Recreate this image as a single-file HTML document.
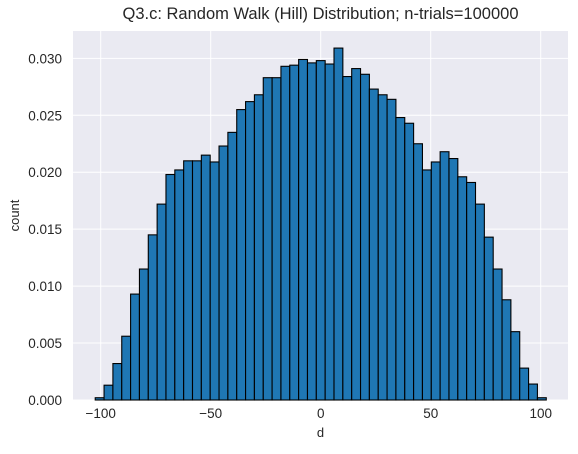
<!DOCTYPE html>
<html><head><meta charset="utf-8"><style>
body{margin:0;background:#fff;}
svg text{font-family:"Liberation Sans",Arial,sans-serif;fill:#262626;}
</style></head><body>
<svg id="chart" width="578" height="449" xmlns="http://www.w3.org/2000/svg">
<text x="320.5" y="19" font-size="16.5" text-anchor="middle">Q3.c: Random Walk (Hill) Distribution; n-trials=100000</text>
<rect x="73" y="31" width="495" height="369" fill="#eaeaf2"/>
<g id="grid"></g><g id="bars"></g><g id="ticks"></g>
<text x="320.5" y="437" font-size="13" text-anchor="middle">d</text>
<text x="19" y="215.5" font-size="13" text-anchor="middle" transform="rotate(-90 19 215.5)">count</text>
</svg>
<script>
const binStart = -102.5;
const binWidth = 4.02;
const counts = [0.0002,0.0013,0.0032,0.0056,0.0093,0.0115,0.0145,0.0172,0.0198,0.0202,0.0210,0.0210,0.0215,0.0209,0.0223,0.0235,0.0255,0.0262,0.0268,0.0283,0.0283,0.0293,0.0294,0.0299,0.0296,0.0298,0.0295,0.0309,0.0284,0.0291,0.0286,0.0273,0.0268,0.0264,0.0248,0.0243,0.0225,0.0202,0.0209,0.0218,0.0212,0.0196,0.0191,0.0172,0.0143,0.0115,0.0088,0.0060,0.0028,0.0014,0.0002];
const xTicks = [-100,-50,0,50,100];
const xTickLabels = ["\u2212100","\u221250","0","50","100"];
const yTicks = [0,0.005,0.010,0.015,0.020,0.025,0.030];
const yTickLabels = ["0.000","0.005","0.010","0.015","0.020","0.025","0.030"];
const X0=73,X1=568,Y0=400,Y1=31,xmin=-112.6,xmax=112.4,ymin=0,ymax=0.0324;
const sx=v=>X0+(v-xmin)/(xmax-xmin)*(X1-X0);
const sy=v=>Y0-(v-ymin)/(ymax-ymin)*(Y0-Y1);
const NS="http://www.w3.org/2000/svg";
function mk(tag,attrs,parent){const e=document.createElementNS(NS,tag);for(const k in attrs)e.setAttribute(k,attrs[k]);parent.appendChild(e);return e;}
const grid=document.getElementById('grid'),bars=document.getElementById('bars'),ticks=document.getElementById('ticks');
xTicks.forEach((t,i)=>{
  const l=mk('line',{x1:sx(t),x2:sx(t),y1:Y1,y2:Y0,stroke:'#fff','stroke-width':1},grid);
  
  
  const tx=mk('text',{x:sx(t),y:418,'font-size':13.5,'text-anchor':'middle'},ticks);
  tx.textContent=xTickLabels[i];
  
  
});
yTicks.forEach((t,i)=>{
  const l=mk('line',{x1:X0,x2:X1,y1:sy(t),y2:sy(t),stroke:'#fff','stroke-width':1},grid);
  
  
  const tx=mk('text',{x:62,y:sy(t)+5,'font-size':13.5,'text-anchor':'end'},ticks);
  tx.textContent=yTickLabels[i];
  
  
});
counts.forEach((c,i)=>{
  const a=binStart+i*binWidth,b=a+binWidth;
  const r=mk('rect',{x:sx(a),y:sy(c),width:sx(b)-sx(a),height:Y0-sy(c),fill:'#1f77b4',stroke:'#000','stroke-width':1.1},bars);
  
  
});
</script>
</body></html>
